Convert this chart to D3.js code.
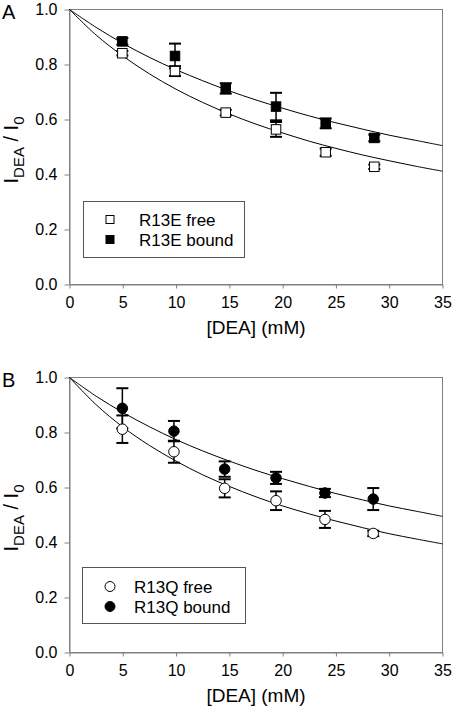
<!DOCTYPE html>
<html>
<head>
<meta charset="utf-8">
<script src="https://cdn.jsdelivr.net/npm/d3@7"></script>
<style>
  html, body { margin: 0; padding: 0; background: #fff; }
  svg { display: block; font-family: "Liberation Sans", Arial, sans-serif; }
</style>
</head>
<body>
<svg id="chart" width="455" height="712"></svg>
<script>
// ---------- data ----------
const xTicks = [0, 5, 10, 15, 20, 25, 30, 35];
const yTicks = [0, 0.2, 0.4, 0.6, 0.8, 1.0];

// Panel A (R13E)
const aX = [4.96, 9.9, 14.66, 19.38, 24.04, 28.6];
const aFreeY = [0.841, 0.776, 0.625, 0.564, 0.481, 0.428];
const aFreeErr = [0.008, 0.018, 0.010, 0.027, 0.013, 0.008];
const aBoundY = [0.884, 0.831, 0.713, 0.647, 0.586, 0.533];
const aBoundErr = [0.012, 0.045, 0.019, 0.050, 0.018, 0.012];

// Panel B (R13Q)
const bX = [4.96, 9.8, 14.56, 19.38, 23.97, 28.5];
const bFreeY = [0.812, 0.730, 0.597, 0.552, 0.484, 0.433];
const bFreeErr = [0.050, 0.040, 0.033, 0.034, 0.031, 0.010];
const bBoundY = [0.888, 0.805, 0.667, 0.635, 0.580, 0.558];
const bBoundErr = [0.073, 0.037, 0.028, 0.022, 0.015, 0.040];

// Fitted curves
const curveX = [0, 2.5, 5, 7.5, 10, 12.5, 15, 17.5, 20, 22.5, 25, 27.5, 30, 32.5, 35];
const aFitBound = [1.000, 0.935, 0.877, 0.826, 0.781, 0.741, 0.704, 0.671, 0.641, 0.613, 0.588, 0.565, 0.543, 0.524, 0.505];
const aFitFree  = [1.000, 0.907, 0.831, 0.766, 0.710, 0.662, 0.620, 0.583, 0.551, 0.521, 0.495, 0.471, 0.450, 0.430, 0.412];
const bFitBound = [1.000, 0.932, 0.873, 0.821, 0.774, 0.733, 0.696, 0.662, 0.632, 0.604, 0.578, 0.555, 0.533, 0.514, 0.495];
const bFitFree  = [1.000, 0.901, 0.820, 0.753, 0.696, 0.646, 0.604, 0.566, 0.533, 0.504, 0.478, 0.454, 0.432, 0.413, 0.395];

const panelLabels = ["A", "B"];
const legendA = ["R13E free", "R13E bound"];
const legendB = ["R13Q free", "R13Q bound"];
const xTitle = "[DEA] (mM)";

// ---------- drawing ----------
const svg = d3.select("#chart");
const AXIS_GRAY = "#808080";
const FONT_TICK = 16;

function drawPanel(p) {
  const x = d3.scaleLinear().domain([0, 35]).range([69.5, 442.5]);
  const y = d3.scaleLinear().domain([0, 1]).range([p.bottom, p.top]);
  const g = svg.append("g");

  // frame
  g.append("rect")
    .attr("x", x(0)).attr("y", y(1))
    .attr("width", x(35) - x(0)).attr("height", y(0) - y(1))
    .attr("fill", "none").attr("stroke", AXIS_GRAY).attr("stroke-width", 1);

  // axes
  const xa = g.append("g").attr("transform", `translate(0,${y(0)})`)
    .call(d3.axisBottom(x).tickValues(xTicks).tickSize(4).tickSizeOuter(0).tickPadding(8).tickFormat(d3.format("d")));
  const ya = g.append("g").attr("transform", `translate(${x(0)},0)`)
    .call(d3.axisLeft(y).tickValues(yTicks).tickSize(5).tickSizeOuter(0).tickPadding(7).tickFormat(d3.format(".1f")));
  [xa, ya].forEach(a => {
    a.select(".domain").attr("stroke", AXIS_GRAY);
    a.selectAll(".tick line").attr("stroke", AXIS_GRAY);
    a.selectAll(".tick text").attr("fill", "#000").attr("font-size", FONT_TICK)
      .attr("font-family", "Liberation Sans, Arial, sans-serif");
  });

  // fit curves
  const line = d3.line().x((d, i) => x(curveX[i])).y(d => y(d)).curve(d3.curveCatmullRom.alpha(0.5));
  [p.fitBound, p.fitFree].forEach(f => {
    g.append("path").attr("d", line(f)).attr("fill", "none")
      .attr("stroke", "#000").attr("stroke-width", 1);
  });

  // error bars
  const cap = 6;
  const series = [
    { ys: p.freeY, errs: p.freeErr, fill: "#fff" },
    { ys: p.boundY, errs: p.boundErr, fill: "#000" }
  ];
  series.forEach(s => {
    s.ys.forEach((v, i) => {
      const cx = x(p.xs[i]);
      const y1 = y(v + s.errs[i]), y2 = y(v - s.errs[i]);
      g.append("line").attr("x1", cx).attr("x2", cx).attr("y1", y1).attr("y2", y2)
        .attr("stroke", "#000").attr("stroke-width", 1.5);
      [y1, y2].forEach(yy => {
        g.append("line").attr("x1", cx - cap).attr("x2", cx + cap).attr("y1", yy).attr("y2", yy)
          .attr("stroke", "#000").attr("stroke-width", 2);
      });
    });
  });
  // markers
  series.forEach(s => {
    s.ys.forEach((v, i) => {
      drawMarker(g, p.shape, x(p.xs[i]), y(v), s.fill, 9.5);
    });
  });

  // legend
  const lg = g.append("g");
  lg.append("rect").attr("x", p.legend.x).attr("y", p.legend.y)
    .attr("width", p.legend.w).attr("height", p.legend.h)
    .attr("fill", "#fff").attr("stroke", "#555").attr("stroke-width", 1);
  p.legendText.forEach((t, i) => {
    const ry = p.legend.row0 + i * 20;
    drawMarker(lg, p.shape, p.legend.mx, ry, i === 0 ? "#fff" : "#000", p.shape === "square" ? 8 : 9);
    lg.append("text").attr("x", p.legend.tx).attr("y", ry).attr("dy", "0.36em")
      .attr("font-size", 17).text(t);
  });

  // panel label
  g.append("text").attr("x", 2).attr("y", y(1) + 9.5).attr("font-size", 20).text(p.label);

  // y-axis title
  const yt = g.append("text")
    .attr("transform", `translate(18,${(y(0) + y(1)) / 2 + 3}) rotate(-90)`)
    .attr("text-anchor", "middle").attr("font-size", 20);
  yt.append("tspan").text("I");
  yt.append("tspan").attr("font-size", 15).attr("dy", 6).text("DEA");
  yt.append("tspan").attr("dy", -6).text(" / I");
  yt.append("tspan").attr("font-size", 15).attr("dy", 6).text("0");

  // x-axis title
  g.append("text").attr("x", (x(0) + x(35)) / 2).attr("y", y(0) + 49)
    .attr("text-anchor", "middle").attr("font-size", 19).text(xTitle);
}

function drawMarker(g, shape, cx, cy, fill, size) {
  if (shape === "square") {
    g.append("rect").attr("x", cx - size / 2).attr("y", cy - size / 2)
      .attr("width", size).attr("height", size)
      .attr("fill", fill).attr("stroke", "#000").attr("stroke-width", 1);
  } else {
    g.append("circle").attr("cx", cx).attr("cy", cy).attr("r", size / 2 + 0.5)
      .attr("fill", fill).attr("stroke", "#000").attr("stroke-width", 1);
  }
}

drawPanel({
  label: panelLabels[0], top: 9.5, bottom: 284.5, shape: "square",
  xs: aX, freeY: aFreeY, freeErr: aFreeErr, boundY: aBoundY, boundErr: aBoundErr,
  fitBound: aFitBound, fitFree: aFitFree, legendText: legendA,
  legend: { x: 83.5, y: 201.5, w: 161, h: 56, mx: 110, row0: 219.5, tx: 139 }
});
drawPanel({
  label: panelLabels[1], top: 377.5, bottom: 652.5, shape: "circle",
  xs: bX, freeY: bFreeY, freeErr: bFreeErr, boundY: bBoundY, boundErr: bBoundErr,
  fitBound: bFitBound, fitFree: bFitFree, legendText: legendB,
  legend: { x: 82.5, y: 567.5, w: 163, h: 56, mx: 110, row0: 586.5, tx: 134 }
});
</script>
</body>
</html>
